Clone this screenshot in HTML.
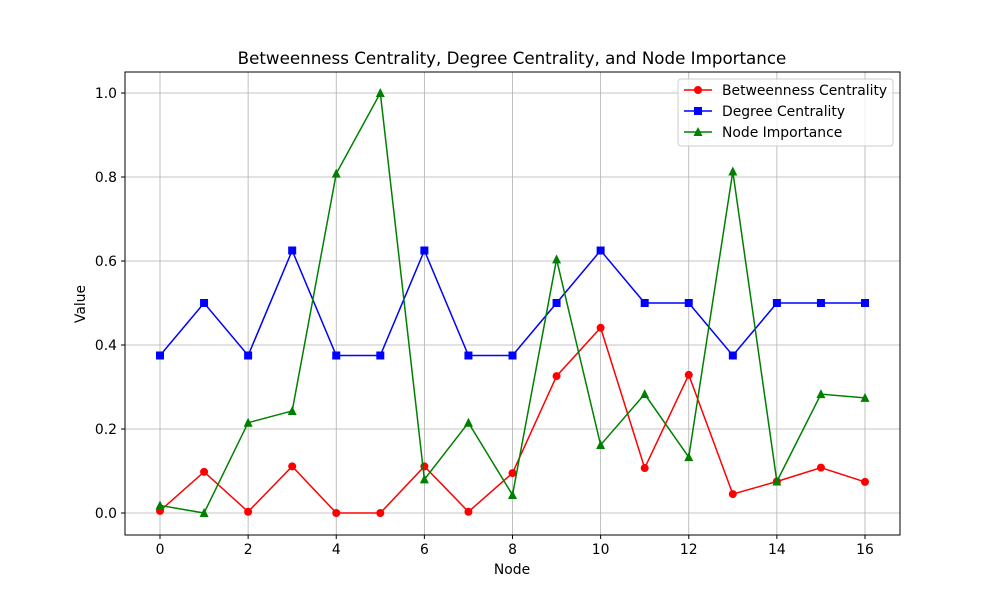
<!DOCTYPE html>
<html><head><meta charset="utf-8"><style>
body{margin:0;background:#fff}
svg text{font-family:"DejaVu Sans","Liberation Sans",sans-serif;fill:#000}
</style></head><body>
<svg id="chart" width="1000" height="600" xmlns="http://www.w3.org/2000/svg">
<rect width="1000" height="600" fill="#fff"/>
<text x="512" y="64" font-size="16.7" text-anchor="middle">Betweenness Centrality, Degree Centrality, and Node Importance</text>
<g id="grid"></g><g id="ticks"></g><g id="series"></g>
<rect x="125" y="72" width="775" height="463" fill="none" stroke="#000" stroke-width="1"/>
<text x="512" y="574" font-size="13.9" text-anchor="middle">Node</text>
<text transform="translate(85,304) rotate(-90)" font-size="13.9" text-anchor="middle">Value</text>
<g>
<rect x="678" y="79" width="215" height="67" fill="#fff" fill-opacity="0.8" stroke="#ccc" rx="3"/>
<g><line x1="684" y1="90" x2="712" y2="90" stroke="red" stroke-width="1.5"/><circle cx="698" cy="90" r="4" fill="red"/><text x="722" y="95" font-size="13.9">Betweenness Centrality</text></g>
<g><line x1="684" y1="111" x2="712" y2="111" stroke="blue" stroke-width="1.5"/><rect x="694" y="107" width="8" height="8" fill="blue"/><text x="722" y="116" font-size="13.9">Degree Centrality</text></g>
<g><line x1="684" y1="132" x2="712" y2="132" stroke="green" stroke-width="1.5"/><polygon points="698,127 702.5,136 693.5,136" fill="green"/><text x="722" y="137" font-size="13.9">Node Importance</text></g>
</g>
</svg>
<script>
const nodes=[0,1,2,3,4,5,6,7,8,9,10,11,12,13,14,15,16];
const betweenness=[0.005,0.098,0.003,0.111,0,0,0.111,0.003,0.095,0.326,0.441,0.107,0.329,0.045,0.075,0.108,0.074];
const degree=[0.375,0.5,0.375,0.625,0.375,0.375,0.625,0.375,0.375,0.5,0.625,0.5,0.5,0.375,0.5,0.5,0.5];
const importance=[0.018,0,0.215,0.243,0.808,1.0,0.08,0.215,0.043,0.604,0.162,0.283,0.133,0.813,0.075,0.283,0.274];
const xTicks=[0,2,4,6,8,10,12,14,16];
const yTicks=[0.0,0.2,0.4,0.6,0.8,1.0];
const NS="http://www.w3.org/2000/svg";
const xs=v=>160+v*(865-160)/16;
const ys=v=>513-v*420;
function mk(t,a,p){const e=document.createElementNS(NS,t);for(const k in a)e.setAttribute(k,a[k]);p.appendChild(e);return e;}
const grid=document.getElementById('grid'),ticks=document.getElementById('ticks'),series=document.getElementById('series');
xTicks.forEach(t=>{const x=xs(t);
const g=mk('line',{x1:x,x2:x,y1:72,y2:535,stroke:'#b0b0b0','stroke-width':0.8},grid);

mk('line',{x1:x,x2:x,y1:535,y2:539,stroke:'#000'},ticks);
const tx=mk('text',{x:x,y:554,'font-size':13.9,'text-anchor':'middle'},ticks);tx.textContent=t;
});
yTicks.forEach(t=>{const y=ys(t);
const g=mk('line',{x1:125,x2:900,y1:y,y2:y,stroke:'#b0b0b0','stroke-width':0.8},grid);

mk('line',{x1:121,x2:125,y1:y,y2:y,stroke:'#000'},ticks);
const tx=mk('text',{x:117,y:y+5,'font-size':13.9,'text-anchor':'end'},ticks);tx.textContent=t.toFixed(1);
});
function draw(vals,color,shape,name){
const g=mk('g',{},series);

const l=mk('polyline',{points:vals.map((v,i)=>xs(nodes[i])+','+ys(v)).join(' '),fill:'none',stroke:color,'stroke-width':1.5},g);

vals.forEach((v,i)=>{const x=xs(nodes[i]),y=ys(v);let m;
if(shape==='c')m=mk('circle',{cx:x,cy:y,r:4,fill:color},g);
else if(shape==='s')m=mk('rect',{x:x-4,y:y-4,width:8,height:8,fill:color},g);
else m=mk('polygon',{points:`${x},${y-5} ${x+4.5},${y+4} ${x-4.5},${y+4}`,fill:color},g);
});}
draw(betweenness,'red','c','betweenness');
draw(degree,'blue','s','degree');
draw(importance,'green','t','importance');
</script>
</body></html>
